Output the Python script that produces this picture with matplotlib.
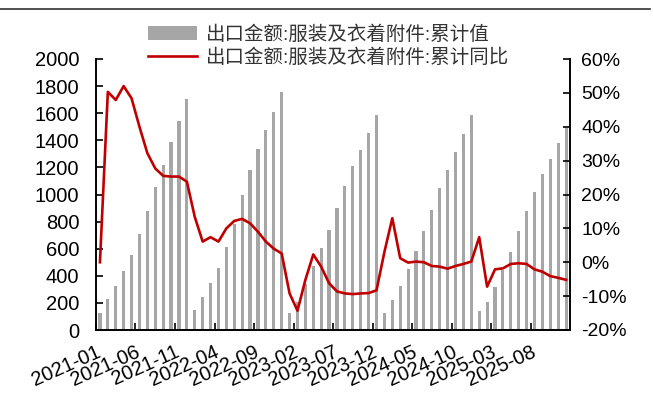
"""
    Monthly cumulative apparel exports (bars) with cumulative YoY growth (line).
"""

import numpy as np
import pandas as pd
import matplotlib
matplotlib.use("Agg")
import matplotlib.pyplot as plt
from matplotlib.lines import Line2D

plt.rcParams['font.family'] = ['Liberation Sans', 'Noto Sans CJK SC', 'DejaVu Sans']
plt.rcParams['axes.unicode_minus'] = False

# Data (2021-01 .. 2025-12).
months = pd.date_range('2021-01-01', periods=60, freq='MS').strftime('%Y-%m').tolist()

cum_value = [123, 229, 325, 435, 557, 708, 875, 1055, 1220, 1387, 1543, 1705,
             148, 244, 348, 461, 614, 784, 994, 1179, 1339, 1476, 1606, 1755,
             129, 208, 341, 471, 604, 740, 901, 1063, 1210, 1328, 1451, 1590,
             129, 224, 328, 448, 581, 731, 886, 1047, 1179, 1312, 1444, 1589,
             140, 204, 320, 443, 576, 728, 878, 1021, 1149, 1262, 1378, 1493]

cum_yoy = [0.0, 50.3, 47.9, 52.0, 48.4, 40.0, 32.2, 27.7, 25.5, 25.3, 25.3, 23.8,
           13.4, 6.1, 7.4, 6.1, 10.0, 12.2, 12.8, 11.5, 9.0, 6.1, 4.0, 2.6,
           -9.2, -14.3, -5.2, 2.3, -1.3, -6.2, -8.6, -9.2, -9.4, -9.2, -9.1, -8.3,
           3.0, 13.0, 1.2, -0.1, 0.2, 0.0, -1.1, -1.3, -1.9, -1.1, -0.5, 0.2,
           7.4, -7.2, -2.1, -1.8, -0.5, -0.3, -0.5, -2.1, -2.8, -4.1, -4.6, -5.2]

tick_labels = ['2021-01', '2021-06', '2021-11', '2022-04', '2022-09', '2023-02',
               '2023-07', '2023-12', '2024-05', '2024-10', '2025-03', '2025-08']

label_bar = '出口金额:服装及衣着附件:累计值'
label_line = '出口金额:服装及衣着附件:累计同比'

# Figure.
fig = plt.figure(figsize=(6.53, 4.0), dpi=100)
ax = fig.add_axes([0.147, 0.175, 0.726, 0.6775])
ax2 = ax.twinx()

x = np.arange(len(months))
bars = ax.bar(x, cum_value, width=0.4, color='#A6A6A6', zorder=2)
line, = ax2.plot(x, cum_yoy, color='#C00000', lw=1.9, zorder=3,
                 solid_joinstyle='round')

ax.set_xlim(-0.5, len(months) - 0.5)
ax.set_ylim(0, 2000)
ax.set_yticks(np.arange(0, 2001, 200))
ax2.set_ylim(-20, 60)
ax2.set_yticks(np.arange(-20, 61, 10))
ax2.set_yticklabels([f'{v}%' for v in range(-20, 61, 10)])

tick_pos = [months.index(t) - 0.5 for t in tick_labels]
ax.set_xticks(tick_pos)
ax.set_xticklabels(tick_labels, rotation=24, ha='right', rotation_mode='anchor')

for a in (ax, ax2):
    a.spines['top'].set_visible(False)
    for s in a.spines.values():
        s.set_linewidth(1.2)
ax.tick_params(axis='y', direction='in', length=5, width=1.2, labelsize=14.5, pad=12)
ax.tick_params(axis='x', direction='in', length=5, width=1.2, labelsize=14.5, pad=9)
ax2.tick_params(axis='y', direction='in', length=5, width=1.2, labelsize=14, pad=8)

fig.legend([bars, line], [label_bar, label_line],
           loc='upper left', bbox_to_anchor=(0.2, 0.98),
           frameon=False, fontsize=14, handlelength=2.5, handletextpad=0.5,
           labelspacing=0.22, labelcolor='#333333')

# Thin rule across the top.
fig.add_artist(Line2D([0.0, 0.995], [0.978, 0.978], color='#333333', lw=1.2))

plt.savefig("out.png", dpi=100)
plt.close()
